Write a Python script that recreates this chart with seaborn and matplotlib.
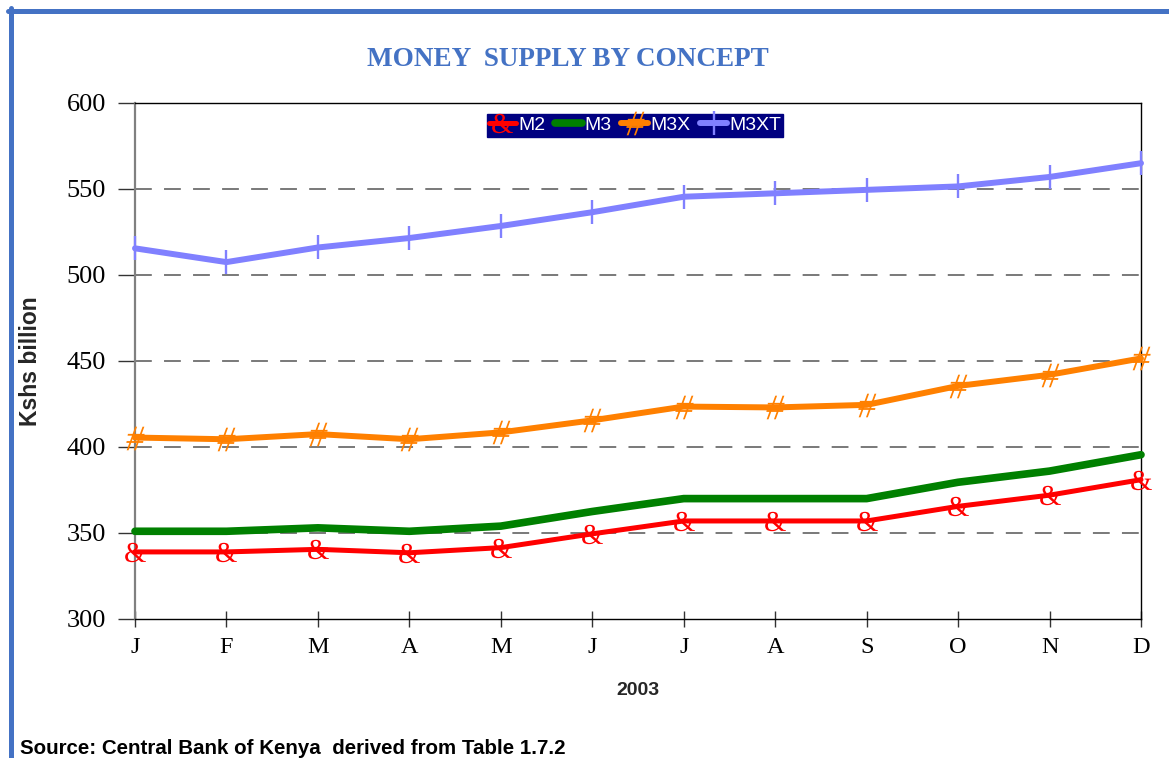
import pandas as pd
import seaborn as sns
import matplotlib.pyplot as plt
from matplotlib.lines import Line2D
from matplotlib.textpath import TextPath
from matplotlib.font_manager import FontProperties
from matplotlib.path import Path

months = ['J', 'F', 'M', 'A', 'M', 'J', 'J', 'A', 'S', 'O', 'N', 'D']
m2 = [339, 339, 340.5, 338.5, 341.5, 349.5, 357, 357, 357, 365.5, 372, 381]
m3 = [351, 351, 353, 351, 354, 362.5, 370, 370, 370, 379.5, 386, 395.5]
m3x = [405.5, 404.5, 407.5, 404.5, 408.5, 415.5, 423.5, 423, 424.5, 435.5, 442, 451.5]
m3xt = [515.5, 507.5, 516, 521.5, 528.5, 536.5, 545.5, 547.5, 549.5, 551.5, 557, 565]

series = {'M2': m2, 'M3': m3, 'M3X': m3x, 'M3XT': m3xt}
df = pd.concat([pd.DataFrame({'month': range(len(months)), 'value': v, 'concept': k})
                for k, v in series.items()], ignore_index=True)


def glyph_marker(ch, family, style='normal'):
    # text glyph as a centred path marker
    tp = TextPath((0, 0), ch, size=1, prop=FontProperties(family=family, style=style))
    ext = tp.get_extents()
    cx, cy = (ext.x0 + ext.x1) / 2, (ext.y0 + ext.y1) / 2
    return Path(tp.vertices - [cx, cy], tp.codes)


colors = {'M2': '#ff0000', 'M3': '#008000', 'M3X': '#ff8000', 'M3XT': '#8080ff'}
markers = {'M2': glyph_marker('&', 'Liberation Serif'), 'M3': None,
           'M3X': glyph_marker('#', 'Liberation Serif', 'italic'), 'M3XT': '|'}
widths = {'M2': 3.6, 'M3': 5.5, 'M3X': 4.3, 'M3XT': 4.3}
msizes = {'M2': 16.5, 'M3': 0, 'M3X': 17, 'M3XT': 17}

sns.set_style('white')
plt.rcParams['text.color'] = 'black'
plt.rcParams['xtick.color'] = 'black'
plt.rcParams['ytick.color'] = 'black'
fig = plt.figure(figsize=(11.69, 7.58), dpi=100)
ax = fig.add_axes([135 / 1169, 1 - 619 / 758, 1006 / 1169, 516 / 758])

for k in series:
    sns.lineplot(data=df[df.concept == k], x='month', y='value', color=colors[k],
                 linewidth=widths[k], marker=markers[k],
                 markersize=msizes[k], markeredgewidth=0 if k != 'M3XT' else 1.7,
                 markeredgecolor=colors[k], markerfacecolor=colors[k],
                 label=k, ax=ax, zorder=3, clip_on=False)

ax.set_xlim(0, 11)
ax.set_ylim(300, 600)
ax.set_xticks(range(12))
ax.set_xticklabels(months, family='Liberation Serif', fontsize=17.5)
ax.set_yticks(range(300, 601, 50))
ax.set_yticklabels([str(v) for v in range(300, 601, 50)], family='Liberation Serif', fontsize=19)
ax.tick_params(axis='y', direction='out', length=12, width=1, color='#333333', pad=9, left=True)
ax.tick_params(axis='x', direction='inout', length=12, width=1, color='#333333', pad=7, bottom=True)

for y in range(350, 600, 50):
    ax.axhline(y, color='#555555', linewidth=1.1, dashes=(11, 8), zorder=1)

ax.spines['left'].set_color('#808080')
ax.spines['left'].set_linewidth(1.6)
for s in ['top', 'bottom', 'right']:
    ax.spines[s].set_color('black')
    ax.spines[s].set_linewidth(1)

ax.set_xlabel('2003', family='Liberation Sans', fontweight='bold', fontsize=14)
ax.xaxis.set_label_coords(0.5, -(682 - 619) / 516)
ax.set_ylabel('Kshs billion', family='Liberation Sans', fontweight='bold', fontsize=16.5)
ax.yaxis.set_label_coords(-(135 - 42) / 1006, 0.5)

handles, labels = ax.get_legend_handles_labels()
lgd = ax.legend(handles, labels, ncol=4, loc='upper center', bbox_to_anchor=(0.497, 0.978),
                facecolor='#000080', edgecolor='#000080', labelcolor='white', framealpha=1,
                fancybox=False, handlelength=1.4, handletextpad=0.1, columnspacing=0.5,
                borderpad=0.12, borderaxespad=0, prop={'family': 'Liberation Sans', 'size': 14})

fig.text(568 / 1169, 1 - 60 / 758, 'MONEY  SUPPLY BY CONCEPT', ha='center', va='center',
         color='#4472c4', family='Liberation Serif', fontweight='bold', fontsize=19.5)
fig.text(20 / 1169, 1 - 748 / 758, 'Source: Central Bank of Kenya  derived from Table 1.7.2',
         ha='left', va='center', family='Liberation Sans', fontweight='bold', fontsize=14.8)

# blue frame round the chart (left and top edges visible)
fig.add_artist(Line2D([10.5 / 1169, 10.5 / 1169], [0, 1 - 8 / 758], color='#4472c4',
                      linewidth=3.6, transform=fig.transFigure))
fig.add_artist(Line2D([8 / 1169, 1], [1 - 10.5 / 758, 1 - 10.5 / 758], color='#4472c4',
                      linewidth=3.6, transform=fig.transFigure))

fig.savefig('out.png', dpi=100)
